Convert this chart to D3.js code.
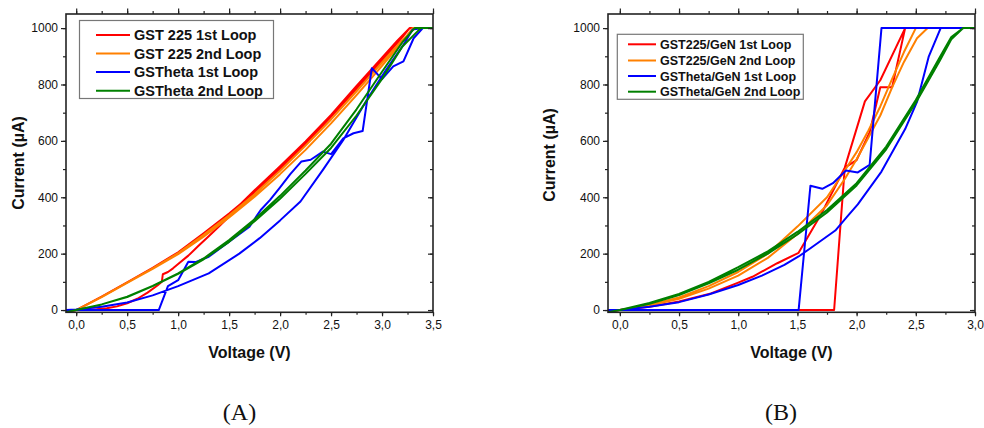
<!DOCTYPE html>
<html><head><meta charset="utf-8">
<script src="https://cdn.jsdelivr.net/npm/d3@7"></script>
<style>body{margin:0;background:#fff}svg{display:block}</style>
</head><body>
<svg id="c" width="984" height="428"></svg>
<script>
// ---------- Panel A data (Voltage V, Current µA) ----------
const seriesNamesA = ["GST 225 1st Loop", "GST 225 2nd Loop", "GSTheta 1st Loop", "GSTheta 2nd Loop"];
const gst225Loop1A = [[-0.1,-4],[0,0],[0.2,3],[0.3,6],[0.4,13],[0.5,24],[0.6,40],[0.7,62],[0.8,88],[0.84,100],[0.85,127],[0.9,135],[0.95,148],[1.0,163],[1.1,193],[1.2,228],[1.3,262],[1.4,296],[1.5,332],[1.6,372],[1.75,425],[2.0,510],[2.25,598],[2.5,692],[2.75,795],[3.0,895],[3.15,955],[3.27,1000],[3.3,1000],
  [3.27,1000],[3.2,968],[3.0,885],[2.75,785],[2.5,685],[2.25,590],[2.0,500],[1.75,418],[1.5,342],[1.25,272],[1.0,205],[0.75,150],[0.5,98],[0.25,48],[0,0],[-0.1,-8]];
const gst225Loop2A = [[-0.1,-8],[0,0],[0.25,46],[0.5,96],[0.75,146],[1.0,198],[1.25,260],[1.5,328],[1.75,402],[2.0,482],[2.25,568],[2.5,662],[2.75,762],[3.0,866],[3.2,952],[3.3,1000],[3.35,1000],
  [3.32,1000],[3.2,958],[3.0,878],[2.75,776],[2.5,676],[2.25,583],[2.0,494],[1.75,411],[1.5,336],[1.25,267],[1.0,202],[0.75,148],[0.5,97],[0.25,47],[0,0],[-0.1,-8]];
const gsThetaLoop1A = [[-0.1,0],[0.81,0],[0.9,85],[1.0,106],[1.1,171],[1.17,170],[1.3,189],[1.5,242],[1.7,296],[1.81,355],[1.9,390],[2.0,435],[2.1,482],[2.21,527],[2.3,533],[2.42,562],[2.5,553],[2.62,609],[2.72,627],[2.81,635],[2.9,858],[3.0,819],[3.11,864],[3.21,882],[3.31,964],[3.4,1000],
  [3.3,995],[3.2,935],[3.04,852],[2.85,745],[2.62,603],[2.42,497],[2.2,385],[2.0,318],[1.8,255],[1.6,200],[1.3,130],[1.0,85],[0.75,52],[0.5,27],[0.25,12],[0,2],[-0.1,0]];
const gsThetaLoop2A = [[-0.1,-8],[0,0],[0.25,20],[0.5,46],[0.75,85],[1.0,128],[1.25,180],[1.5,242],[1.75,315],[2.0,395],[2.25,483],[2.5,575],[2.75,690],[3.0,820],[3.2,935],[3.38,1000],[3.5,1000],
  [3.32,1000],[3.2,950],[3.0,845],[2.75,712],[2.5,590],[2.25,495],[2.0,405],[1.75,322],[1.5,248],[1.25,183],[1.0,130],[0.75,86],[0.5,47],[0.25,20],[0,0],[-0.1,-8]];

// ---------- Panel B data ----------
const seriesNamesB = ["GST225/GeN 1st Loop", "GST225/GeN 2nd Loop", "GSTheta/GeN 1st Loop", "GSTheta/GeN 2nd Loop"];
const gst225Loop1B = [[-0.1,0],[1.81,0],[1.9,505],[2.0,532],[2.11,630],[2.2,790],[2.3,790],[2.41,1000],
  [2.2,815],[2.07,740],[1.9,505],[1.7,340],[1.51,203],[1.33,166],[1.12,118],[1.0,97],[0.77,59],[0.5,30],[0.25,12],[0,0],[-0.1,-3]];
const gst225Loop2B = [[-0.1,-8],[0,0],[0.25,16],[0.5,40],[0.75,76],[1.0,122],[1.25,185],[1.5,270],[1.75,372],[1.9,465],[2.0,535],[2.1,612],[2.2,690],[2.3,790],[2.4,880],[2.51,964],[2.6,1000],
  [2.5,1000],[2.4,915],[2.3,820],[2.2,722],[2.1,637],[2.0,560],[1.9,495],[1.75,400],[1.5,296],[1.25,200],[1.0,135],[0.75,85],[0.5,45],[0.25,18],[0,0],[-0.1,-8]];
const gsThetaLoop1B = [[-0.1,0],[1.51,0],[1.61,441],[1.71,430],[1.8,450],[1.91,495],[2.01,488],[2.11,515],[2.21,1000],[2.9,1000],
  [2.71,1000],[2.61,900],[2.51,738],[2.41,642],[2.21,491],[2.01,375],[1.92,331],[1.82,282],[1.61,219],[1.51,190],[1.39,160],[1.2,122],[1.0,89],[0.75,55],[0.5,28],[0.25,12],[0,0],[-0.1,-2]];
const gsThetaLoop2B = [[-0.1,-8],[0,0],[0.25,25],[0.5,57],[0.75,100],[1.0,152],[1.25,208],[1.5,277],[1.75,355],[2.0,450],[2.25,580],[2.5,745],[2.7,895],[2.8,968],[2.9,1000],[3.0,1000],
  [2.9,1000],[2.8,960],[2.7,882],[2.5,735],[2.25,570],[2.0,442],[1.75,346],[1.5,268],[1.25,200],[1.0,143],[0.75,95],[0.5,53],[0.25,22],[0,0],[-0.1,-8]];

// ---------- axis ticks ----------
const yTicksMajor = [0, 200, 400, 600, 800, 1000];
const xTicksMajorA = [0, 0.5, 1.0, 1.5, 2.0, 2.5, 3.0, 3.5];
const xTicksMajorB = [0, 0.5, 1.0, 1.5, 2.0, 2.5, 3.0];
const seriesColors = ["#ff0000", "#ff8000", "#0000ff", "#008000"];

const svg = d3.select("#c");
const fmt = v => d3.format(".1f")(v).replace(".", ",");

function panel(o) {
  const x = d3.scaleLinear().domain(o.xDomain).range([o.left, o.right]);
  const y = d3.scaleLinear().domain([-8, 1050]).range([312.3, 14]);
  const g = svg.append("g");
  const clipId = "clip" + o.id;
  g.append("clipPath").attr("id", clipId).append("rect")
    .attr("x", o.left).attr("y", 14).attr("width", o.right - o.left).attr("height", 312.3 - 14);

  const line = d3.line().x(d => x(d[0])).y(d => y(d[1]));
  const lg = g.append("g").attr("clip-path", `url(#${clipId})`);
  o.series.forEach((s, i) => {
    lg.append("path").attr("d", line(s)).attr("fill", "none")
      .attr("stroke", seriesColors[i]).attr("stroke-width", 2).attr("stroke-linejoin", "round");
  });

  const axCol = "#222";
  const yMinor = d3.range(0, 1001, 100);
  const xMinor = d3.range(0, o.xDomain[1] + 0.001, 0.25);
  // left axis (outward)
  const left = d3.axisLeft(y).tickValues(yTicksMajor).tickSize(5).tickPadding(3).tickFormat(d3.format("d"));
  const gl = g.append("g").attr("transform", `translate(${o.left},0)`).call(left);
  g.append("g").attr("transform", `translate(${o.left},0)`).call(d3.axisLeft(y).tickValues(yMinor).tickSize(3).tickFormat(""));
  // right axis (inward)
  g.append("g").attr("transform", `translate(${o.right},0)`).call(d3.axisRight(y).tickValues(yTicksMajor).tickSize(-5).tickFormat(""));
  g.append("g").attr("transform", `translate(${o.right},0)`).call(d3.axisRight(y).tickValues(yMinor).tickSize(-3).tickFormat(""));
  // bottom axis (outward)
  g.append("g").attr("transform", `translate(0,312.3)`).call(d3.axisBottom(x).tickValues(o.xMajor).tickSize(4).tickPadding(4).tickFormat(fmt));
  g.append("g").attr("transform", `translate(0,312.3)`).call(d3.axisBottom(x).tickValues(xMinor).tickSize(2.5).tickFormat(""));
  // top axis (outward)
  g.append("g").attr("transform", `translate(0,14)`).call(d3.axisTop(x).tickValues(o.xMajor).tickSize(5.5).tickFormat(""));
  g.append("g").attr("transform", `translate(0,14)`).call(d3.axisTop(x).tickValues(xMinor).tickSize(3).tickFormat(""));

  g.selectAll(".domain").remove();
  g.selectAll(".tick line").attr("stroke", axCol).attr("stroke-width", 1.2);
  g.selectAll(".tick text").attr("font-family", "Liberation Sans, Arial, sans-serif").attr("font-size", 12).attr("fill", "#111");
  g.append("rect").attr("x", o.left).attr("y", 14).attr("width", o.right - o.left).attr("height", 312.3 - 14)
    .attr("fill", "none").attr("stroke", axCol).attr("stroke-width", 1.6);

  // titles
  g.append("text").attr("x", (o.left + o.right) / 2).attr("y", 358).attr("text-anchor", "middle")
    .attr("font-family", "Liberation Sans, Arial, sans-serif").attr("font-weight", "bold").attr("font-size", 16).attr("fill", "#111")
    .text("Voltage (V)");
  g.append("text").attr("transform", `translate(${o.ytX},${o.ytY}) rotate(-90)`).attr("text-anchor", "middle").attr("dy", "0.35em")
    .attr("font-family", "Liberation Sans, Arial, sans-serif").attr("font-weight", "bold").attr("font-size", 16).attr("fill", "#111")
    .text("Current (µA)");
  g.append("text").attr("x", o.capX).attr("y", 420).attr("text-anchor", "middle")
    .attr("font-family", "Liberation Serif, DejaVu Serif, serif").attr("font-size", 24).attr("fill", "#111")
    .text(o.caption);

  // legend
  const L = o.legend;
  g.append("rect").attr("x", L.x).attr("y", L.y).attr("width", L.w).attr("height", L.h)
    .attr("fill", "#fff").attr("stroke", "#777").attr("stroke-width", 1.2);
  o.names.forEach((n, i) => {
    const ry = L.rows[i];
    g.append("line").attr("x1", L.lx1).attr("x2", L.lx2).attr("y1", ry).attr("y2", ry)
      .attr("stroke", seriesColors[i]).attr("stroke-width", 2);
    g.append("text").attr("x", L.tx).attr("y", ry).attr("dy", "0.36em")
      .attr("font-family", "Liberation Sans, Arial, sans-serif").attr("font-weight", "bold").attr("font-size", L.fs).attr("fill", "#111")
      .text(n);
  });
}

panel({ id: "A", left: 66, right: 433, xDomain: [-0.1, 3.5], xMajor: xTicksMajorA,
  series: [gst225Loop1A, gst225Loop2A, gsThetaLoop1A, gsThetaLoop2A], names: seriesNamesA,
  ytX: 18.5, ytY: 163, capX: 239.5, caption: "(A)",
  legend: { x: 79.5, y: 20.5, w: 194, h: 78, lx1: 96, lx2: 130, tx: 134, fs: 14.5, rows: [35, 53.5, 72, 90.7] } });

panel({ id: "B", left: 608, right: 975, xDomain: [-0.1, 3.0], xMajor: xTicksMajorB,
  series: [gst225Loop1B, gst225Loop2B, gsThetaLoop1B, gsThetaLoop2B], names: seriesNamesB,
  ytX: 549.5, ytY: 155, capX: 781, caption: "(B)",
  legend: { x: 617.3, y: 34.3, w: 186, h: 65, lx1: 628, lx2: 656, tx: 660, fs: 12.5, rows: [44.3, 60.5, 76, 91.7] } });
</script>
</body></html>
